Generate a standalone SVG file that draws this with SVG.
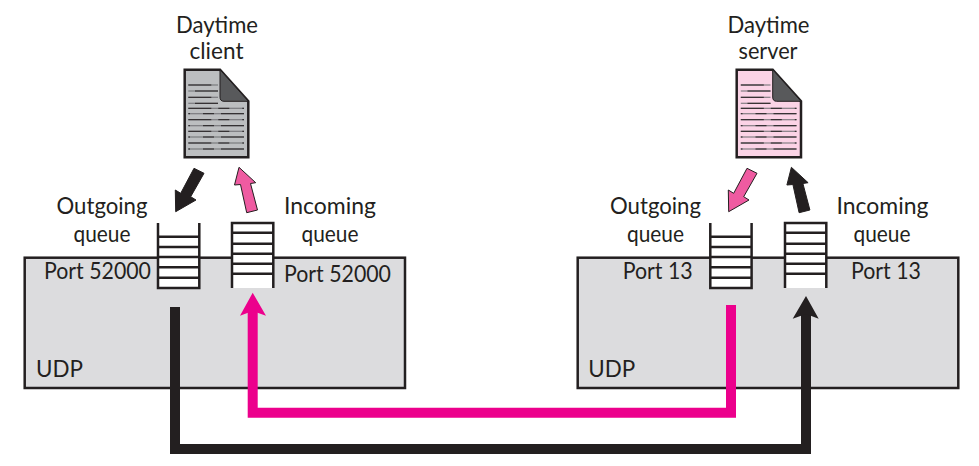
<svg xmlns="http://www.w3.org/2000/svg" xmlns:xlink="http://www.w3.org/1999/xlink" width="979" height="466" viewBox="0 0 979 466">
<style>
text{font-family:"Lato","Liberation Sans",sans-serif;font-size:24px;fill:#231f20}
.box{fill:#dcdcde;stroke:#231f20;stroke-width:2.5}
.q{fill:#fff;stroke:none}
.ql{fill:none;stroke:#231f20;stroke-width:2.5}
.doc{stroke:#231f20;stroke-width:2.5}
.fold{fill:#58595b;stroke:#231f20;stroke-width:1}
.wl{fill:none;stroke:#6d6e71;stroke-width:1.1}
.wd{fill:none;stroke:#231f20;stroke-width:1;stroke-dasharray:23 7 11 13}
.k{fill:none;stroke:#231f20;stroke-width:10}
.p{fill:none;stroke:#ec008c;stroke-width:10}
.a{stroke:#231f20;stroke-width:1}
</style>
<defs>
<g id="lines">
<path class="wl" d="M188.300 85H218M188.300 91H218M188.300 97.300H218M188.300 103.300H218M188.300 108.300H244M188.300 113.700H244M188.300 119.700H244M188.300 125.700H244M188.300 131.300H244M188.300 137H244M188.300 143H244M188.300 149H244"/>
<path class="wd" d="M188.300 85H218M218 91H188.300M188.300 97.300H218M218 103.300H188.300M188.300 108.300H244M244 113.700H188.300M188.300 119.700H244M244 125.700H188.300M188.300 131.300H244M244 137H188.300M188.300 143H244M244 149H188.300"/>
</g>
<g id="qout">
<rect class="q" x="158" y="223" width="41.300" height="65"/>
<path class="ql" d="M158 223V288H199.300V223M158 236.700H199.300M158 247H199.300M158 257H199.300M158 267.300H199.300M158 277.700H199.300"/>
</g>
<g id="qin">
<rect class="q" x="232" y="223" width="41.300" height="65"/>
<path class="ql" d="M232 288V223H273.300V288M232 232.700H273.300M232 243.700H273.300M232 253.700H273.300M232 263.700H273.300M232 273.700H273.300"/>
</g>
<polygon id="adown" points="194,168.300 204,173.300 190.700,196.700 196,200 175.700,211.700 175.300,190 180.700,193.300"/>
<polygon id="aup" points="239,167.300 234.500,185 240.500,184.500 246.700,212.700 257.500,210 250.500,183.500 255.700,182.700"/>
</defs>

<g id="udp-client">
<rect class="box" x="24.700" y="257.700" width="380.300" height="130.300"/>
<text x="36" y="376.700" textLength="47" lengthAdjust="spacingAndGlyphs">UDP</text>
<text x="44" y="279" textLength="107" lengthAdjust="spacingAndGlyphs">Port 52000</text>
<text x="284" y="282" textLength="107" lengthAdjust="spacingAndGlyphs">Port 52000</text>
</g>
<g id="udp-server">
<rect class="box" x="577.700" y="257.700" width="380.600" height="130.300"/>
<text x="588.300" y="376.700" textLength="47" lengthAdjust="spacingAndGlyphs">UDP</text>
<text x="622.700" y="279" textLength="70" lengthAdjust="spacingAndGlyphs">Port 13</text>
<text x="851" y="279" textLength="70" lengthAdjust="spacingAndGlyphs">Port 13</text>
</g>

<g id="client-outgoing-queue">
<use xlink:href="#qout" href="#qout"/>
<text x="56.500" y="214" textLength="91" lengthAdjust="spacingAndGlyphs">Outgoing</text>
<text x="73.500" y="242" textLength="57" lengthAdjust="spacingAndGlyphs">queue</text>
</g>
<g id="client-incoming-queue">
<use xlink:href="#qin" href="#qin"/>
<text x="284" y="214" textLength="92" lengthAdjust="spacingAndGlyphs">Incoming</text>
<text x="301.500" y="242" textLength="57" lengthAdjust="spacingAndGlyphs">queue</text>
</g>
<g id="server-outgoing-queue">
<use xlink:href="#qout" href="#qout" x="552.300"/>
<text x="610" y="214" textLength="91" lengthAdjust="spacingAndGlyphs">Outgoing</text>
<text x="627" y="242" textLength="57" lengthAdjust="spacingAndGlyphs">queue</text>
</g>
<g id="server-incoming-queue">
<use xlink:href="#qin" href="#qin" x="553"/>
<text x="836.500" y="214" textLength="92" lengthAdjust="spacingAndGlyphs">Incoming</text>
<text x="853.500" y="242" textLength="57" lengthAdjust="spacingAndGlyphs">queue</text>
</g>

<g id="daytime-client">
<path class="doc" fill="#bcbec0" d="M184.700 69.700H220L248.300 101.300V157.300H184.700Z"/>
<path class="fold" d="M220 69.700L248.300 101.300H224Q220 101.300 220 97Z"/>
<use xlink:href="#lines" href="#lines"/>
<text x="176" y="32.700" textLength="82" lengthAdjust="spacingAndGlyphs">Daytime</text>
<text x="189.500" y="59.300" textLength="54" lengthAdjust="spacingAndGlyphs">client</text>
</g>
<g id="daytime-server">
<path class="doc" fill="#fbd3e6" d="M736.700 69.700H772.700L801 101.300V157.300H736.700Z"/>
<path class="fold" d="M772.700 69.700L801 101.300H776.700Q772.700 101.300 772.700 97Z"/>
<use xlink:href="#lines" href="#lines" x="552.500"/>
<text x="727.500" y="32.700" textLength="82" lengthAdjust="spacingAndGlyphs">Daytime</text>
<text x="738.500" y="59.300" textLength="59" lengthAdjust="spacingAndGlyphs">server</text>
</g>

<g id="connectors">
<use xlink:href="#adown" href="#adown" class="a" fill="#231f20"/>
<use xlink:href="#aup" href="#aup" class="a" fill="#ef5ba1"/>
<use xlink:href="#adown" href="#adown" class="a" x="553" fill="#ef5ba1"/>
<use xlink:href="#aup" href="#aup" class="a" x="552.400" fill="#231f20"/>
<path class="k" d="M175 307V449H806V312"/>
<polygon fill="#231f20" points="806,296 818.700,318.700 806,314 792.700,318.700"/>
<path class="p" d="M731 305V412.700H252.700V308"/>
<polygon fill="#ec008c" points="252.700,292.700 266,315.700 252.700,311 240,315.700"/>
</g>
</svg>
